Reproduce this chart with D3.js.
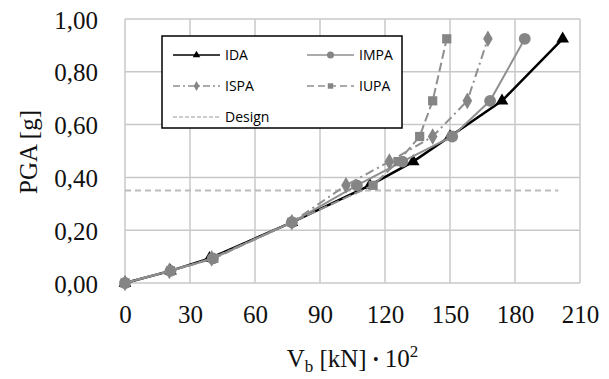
<!DOCTYPE html>
<html>
<head>
<meta charset="utf-8">
<script src="https://cdn.jsdelivr.net/npm/d3@7"></script>
<style>
  body { margin: 0; background: #fff; }
  .tick text { font-family: "Liberation Serif", "Times New Roman", serif; }
</style>
</head>
<body>
<div id="chart"></div>
<script>
// PGA levels of the analyses (same for every series)
var pgaLevels = [0, 0.046, 0.093, 0.23, 0.37, 0.46, 0.555, 0.69, 0.925];

// base shear Vb [kN * 10^2] for each method
var idaVb  = [0, 21, 39, 77, 113, 133, 150, 174, 202];
var impaVb = [0, 21, 40.5, 77, 107, 128, 151, 168.5, 184.5];
var ispaVb = [0, 20.5, 40, 77, 102, 122, 142, 158, 167.5];
var iupaVb = [0, 21, 41, 77, 114.5, 126, 136, 142, 148.5];

var designPga = 0.35;
var designVb = [0, 200];

var xTicks = [0, 30, 60, 90, 120, 150, 180, 210];
var yTicks = [0, 0.2, 0.4, 0.6, 0.8, 1.0];

var svgWidth = 609;
var svgHeight = 379;

var margin = { top: 19, right: 29, bottom: 96, left: 125 };
var width = svgWidth - margin.left - margin.right;
var height = svgHeight - margin.top - margin.bottom;

var svg = d3.select("#chart")
  .append("svg")
  .attr("width", svgWidth)
  .attr("height", svgHeight);

var chartGroup = svg.append("g")
  .attr("transform", `translate(${margin.left}, ${margin.top})`);

var x = d3.scaleLinear().domain([0, 210]).range([0, width]);
var y = d3.scaleLinear().domain([0, 1]).range([height, 0]);

var gridColor = "#c8c8c8";

// gridlines
chartGroup.append("g")
  .selectAll("line")
  .data(xTicks)
  .enter()
  .append("line")
  .attr("x1", d => x(d))
  .attr("x2", d => x(d))
  .attr("y1", 0)
  .attr("y2", height)
  .attr("stroke", gridColor)
  .attr("stroke-width", 1.5);

chartGroup.append("g")
  .selectAll("line")
  .data(yTicks)
  .enter()
  .append("line")
  .attr("x1", 0)
  .attr("x2", width)
  .attr("y1", d => y(d))
  .attr("y2", d => y(d))
  .attr("stroke", gridColor)
  .attr("stroke-width", 1.5);

// axes (labels only, lines come from the grid)
var fmt = d3.format(".2f");
var leftAxis = d3.axisLeft(y)
  .tickValues(yTicks)
  .tickSize(0)
  .tickPadding(27)
  .tickFormat(d => fmt(d).replace(".", ","));
var bottomAxis = d3.axisBottom(x)
  .tickValues(xTicks)
  .tickSize(0)
  .tickPadding(22);

var yAxis = chartGroup.append("g").call(leftAxis);
var xAxis = chartGroup.append("g")
  .attr("transform", `translate(0, ${height})`)
  .call(bottomAxis);

[xAxis, yAxis].forEach(function(ax) {
  ax.select(".domain").remove();
  ax.selectAll("text")
    .attr("font-size", "25px")
    .attr("fill", "#111");
});
yAxis.selectAll("text").attr("dy", "0.36em");

// design line
chartGroup.append("line")
  .attr("x1", x(designVb[0]))
  .attr("x2", x(designVb[1]))
  .attr("y1", y(designPga))
  .attr("y2", y(designPga))
  .attr("stroke", "#bcbcbc")
  .attr("stroke-width", 2)
  .attr("stroke-dasharray", "6,4");

var series = [
  { name: "IDA",  vb: idaVb,  color: "#000", mcolor: "#000", dash: null, width: 2.5, symbol: d3.symbolTriangle, size: 70 },
  { name: "IMPA", vb: impaVb, color: "#8f8f8f", mcolor: "#858585", dash: null, width: 2, symbol: d3.symbolCircle, size: 110 },
  { name: "ISPA", vb: ispaVb, color: "#8f8f8f", mcolor: "#858585", dash: "9,4,2,4", width: 2, symbol: d3.symbolDiamond, size: 80 },
  { name: "IUPA", vb: iupaVb, color: "#8f8f8f", mcolor: "#858585", dash: "9,4", width: 2, symbol: d3.symbolSquare, size: 85 }
];

var line = d3.line()
  .x(d => x(d[0]))
  .y(d => y(d[1]));

series.forEach(function(s) {
  var pts = s.vb.map((v, i) => [v, pgaLevels[i]]);
  chartGroup.append("path")
    .datum(pts)
    .attr("d", line)
    .attr("fill", "none")
    .attr("stroke", s.color)
    .attr("stroke-width", s.width)
    .attr("stroke-dasharray", s.dash);
  chartGroup.selectAll(null)
    .data(pts)
    .enter()
    .append("path")
    .attr("d", d3.symbol().type(s.symbol).size(s.size))
    .attr("transform", d => `translate(${x(d[0])}, ${y(d[1])})`)
    .attr("fill", s.mcolor);
});

// legend
var legend = svg.append("g").attr("transform", "translate(162, 36)");
legend.append("rect")
  .attr("width", 240)
  .attr("height", 92)
  .attr("fill", "#fff")
  .attr("stroke", "#000")
  .attr("stroke-width", 1.5);

var legendItems = [
  { s: series[0], col: 0, row: 0 },
  { s: series[1], col: 1, row: 0 },
  { s: series[2], col: 0, row: 1 },
  { s: series[3], col: 1, row: 1 }
];
legendItems.forEach(function(item) {
  var lx = 11 + item.col * 134;
  var ly = 19 + item.row * 31;
  var g = legend.append("g").attr("transform", `translate(${lx}, ${ly})`);
  g.append("line")
    .attr("x1", 0).attr("x2", 47)
    .attr("y1", 0).attr("y2", 0)
    .attr("stroke", item.s.color)
    .attr("stroke-width", item.s === series[0] ? 1.5 : 1.5)
    .attr("stroke-dasharray", item.s.dash ? (item.s.name === "ISPA" ? "7,3,2,3" : "7,4") : null);
  g.append("path")
    .attr("d", d3.symbol().type(item.s.symbol).size(item.s.size * 0.35))
    .attr("transform", "translate(23.5, 0)")
    .attr("fill", item.s.mcolor);
  g.append("text")
    .attr("x", 52)
    .attr("y", 0)
    .attr("dy", "0.35em")
    .attr("font-family", "'Open Sans', sans-serif")
    .attr("font-size", "14px")
    .attr("fill", "#000")
    .text(item.s.name);
});
var dg = legend.append("g").attr("transform", "translate(11, 81)");
dg.append("line")
  .attr("x1", 0).attr("x2", 47)
  .attr("y1", 0).attr("y2", 0)
  .attr("stroke", "#bcbcbc")
  .attr("stroke-width", 1.5)
  .attr("stroke-dasharray", "4,2");
dg.append("text")
  .attr("x", 52)
  .attr("y", 0)
  .attr("dy", "0.35em")
  .attr("font-family", "'Open Sans', sans-serif")
  .attr("font-size", "14px")
  .attr("fill", "#000")
  .text("Design");

// axis titles
var xTitle = svg.append("text")
  .attr("x", margin.left + width / 2)
  .attr("y", 367)
  .attr("text-anchor", "middle")
  .attr("font-family", "'Liberation Serif', serif")
  .attr("font-size", "25px")
  .attr("fill", "#111");
xTitle.append("tspan").text("V");
xTitle.append("tspan").attr("font-size", "17px").attr("dy", 5).text("b");
xTitle.append("tspan").attr("dy", -5).text(" [kN] ");
xTitle.append("tspan").attr("font-size", "16px").attr("dy", -2).text("\u2022");
xTitle.append("tspan").attr("dy", 2).text(" 10");
xTitle.append("tspan").attr("font-size", "17px").attr("dy", -10).text("2");

svg.append("text")
  .attr("transform", "translate(37, 152) rotate(-90)")
  .attr("text-anchor", "middle")
  .attr("font-family", "'Liberation Serif', serif")
  .attr("font-size", "25px")
  .attr("fill", "#111")
  .text("PGA [g]");
</script>
</body>
</html>
